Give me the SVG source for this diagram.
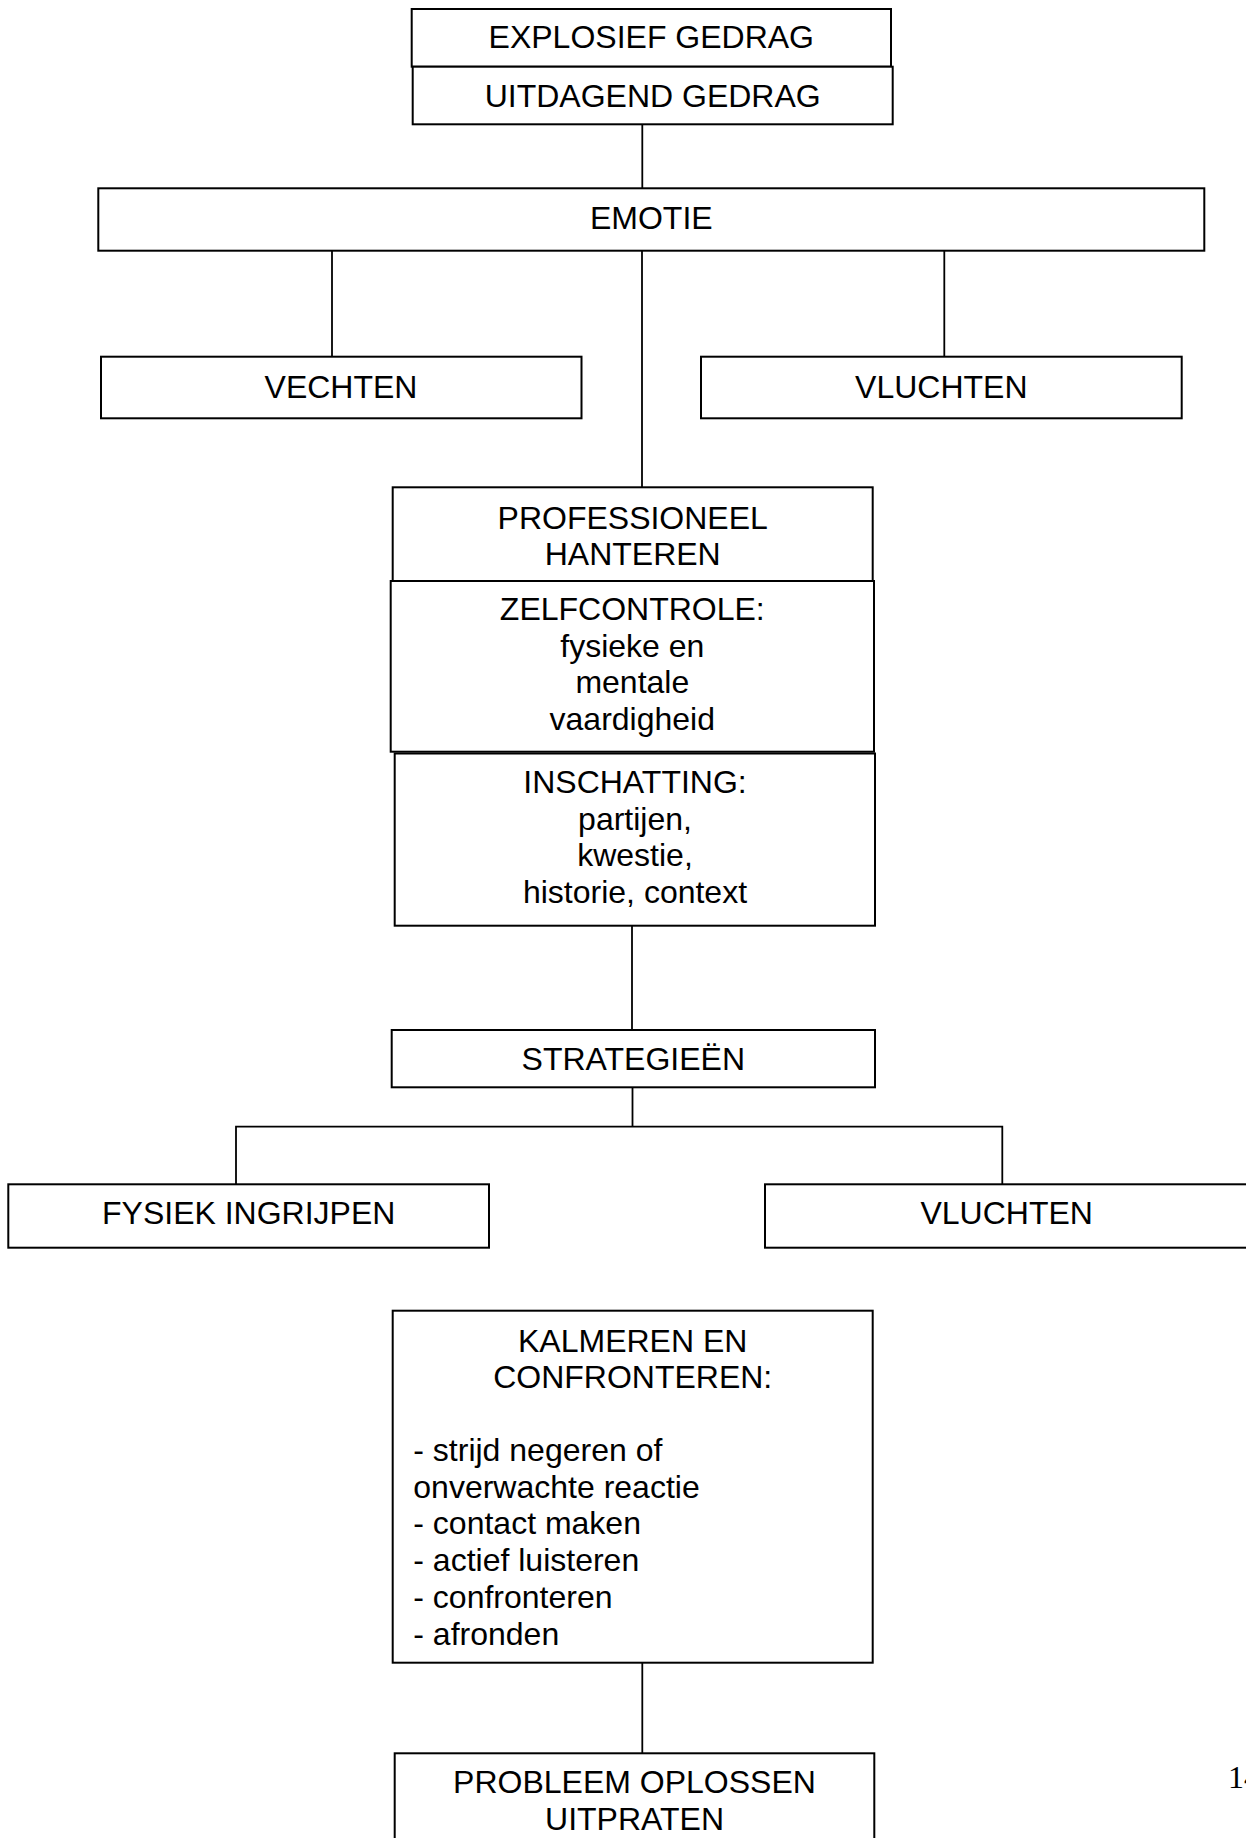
<svg xmlns="http://www.w3.org/2000/svg" width="1246" height="1838" viewBox="0 0 1246 1838">
<style>
  .box { fill: #ffffff; stroke: #000000; stroke-width: 2; }
  .t { font-family: "Liberation Sans", Arial, sans-serif; font-size: 32px; fill: #000000; text-anchor: middle; }
  .tl { font-family: "Liberation Sans", Arial, sans-serif; font-size: 32px; fill: #000000; text-anchor: start; }
  .conn line, .conn polyline { stroke: #000000; stroke-width: 1.8; fill: none; }
  .pn { font-family: "Liberation Serif", "Times New Roman", serif; font-size: 32px; fill: #000000; }
</style>
<rect width="1246" height="1838" fill="#ffffff"/>
<g id="connectors" class="conn">
  <line x1="642.3" y1="124.3" x2="642.3" y2="188.3"/>
  <line x1="332" y1="250.7" x2="332" y2="356.7"/>
  <line x1="944.3" y1="250.7" x2="944.3" y2="356.7"/>
  <line x1="642" y1="250.7" x2="642" y2="487.3"/>
  <line x1="632" y1="925.7" x2="632" y2="1030"/>
  <line x1="632.5" y1="1087.3" x2="632.5" y2="1126.7"/>
  <polyline points="236,1184.3 236,1126.7 1002.3,1126.7 1002.3,1184.3"/>
  <line x1="642.3" y1="1662.7" x2="642.3" y2="1753.3"/>
</g>
<g id="node-explosief">
  <rect class="box" x="411.7" y="9" width="479.3" height="57.7"/>
  <text class="t" x="651.3" y="48.3">EXPLOSIEF GEDRAG</text>
</g>
<g id="node-uitdagend">
  <rect class="box" x="412.7" y="66.7" width="480" height="57.6"/>
  <text class="t" x="652.7" y="106.7">UITDAGEND GEDRAG</text>
</g>
<g id="node-emotie">
  <rect class="box" x="98.3" y="188.3" width="1106" height="62.4"/>
  <text class="t" x="651.3" y="229.3">EMOTIE</text>
</g>
<g id="node-vechten">
  <rect class="box" x="101" y="356.7" width="480.5" height="61.6"/>
  <text class="t" x="341" y="397.7">VECHTEN</text>
</g>
<g id="node-vluchten1">
  <rect class="box" x="701" y="356.7" width="480.7" height="61.6"/>
  <text class="t" x="941.3" y="397.7">VLUCHTEN</text>
</g>
<g id="node-professioneel">
  <rect class="box" x="392.7" y="487.3" width="480" height="93.7"/>
  <text class="t" x="632.7" y="529.3">PROFESSIONEEL</text>
  <text class="t" x="632.7" y="565">HANTEREN</text>
</g>
<g id="node-zelfcontrole">
  <rect class="box" x="390.7" y="581" width="483.3" height="170.7"/>
  <text class="t" x="632.3" y="620">ZELFCONTROLE:</text>
  <text class="t" x="632.3" y="656.7">fysieke en</text>
  <text class="t" x="632.3" y="693.4">mentale</text>
  <text class="t" x="632.3" y="730.1">vaardigheid</text>
</g>
<g id="node-inschatting">
  <rect class="box" x="394.7" y="753.5" width="480.3" height="172.2"/>
  <text class="t" x="635" y="793">INSCHATTING:</text>
  <text class="t" x="635" y="829.7">partijen,</text>
  <text class="t" x="635" y="866.4">kwestie,</text>
  <text class="t" x="635" y="903.1">historie, context</text>
</g>
<g id="node-strategieen">
  <rect class="box" x="391.7" y="1030" width="483.3" height="57.3"/>
  <text class="t" x="633.3" y="1070">STRATEGIEËN</text>
</g>
<g id="node-fysiek">
  <rect class="box" x="8.3" y="1184.3" width="480.7" height="63.4"/>
  <text class="t" x="248.7" y="1224.3">FYSIEK INGRIJPEN</text>
</g>
<g id="node-vluchten2">
  <rect class="box" x="765" y="1184.3" width="483" height="63.4"/>
  <text class="t" x="1006.7" y="1224.3">VLUCHTEN</text>
</g>
<g id="node-kalmeren">
  <rect class="box" x="392.7" y="1310.7" width="480" height="352"/>
  <text class="t" x="632.7" y="1351.7">KALMEREN EN</text>
  <text class="t" x="632.7" y="1388.3">CONFRONTEREN:</text>
  <text class="tl" x="413.3" y="1461">- strijd negeren of</text>
  <text class="tl" x="413.3" y="1497.7">onverwachte reactie</text>
  <text class="tl" x="413.3" y="1534.4">- contact maken</text>
  <text class="tl" x="413.3" y="1571.1">- actief luisteren</text>
  <text class="tl" x="413.3" y="1607.8">- confronteren</text>
  <text class="tl" x="413.3" y="1644.5">- afronden</text>
</g>
<g id="node-probleem">
  <rect class="box" x="394.7" y="1753.3" width="479.6" height="120"/>
  <text class="t" x="634.5" y="1793.3">PROBLEEM OPLOSSEN</text>
  <text class="t" x="634.5" y="1830">UITPRATEN</text>
</g>
<text class="pn" x="1228" y="1788">14</text>
</svg>
